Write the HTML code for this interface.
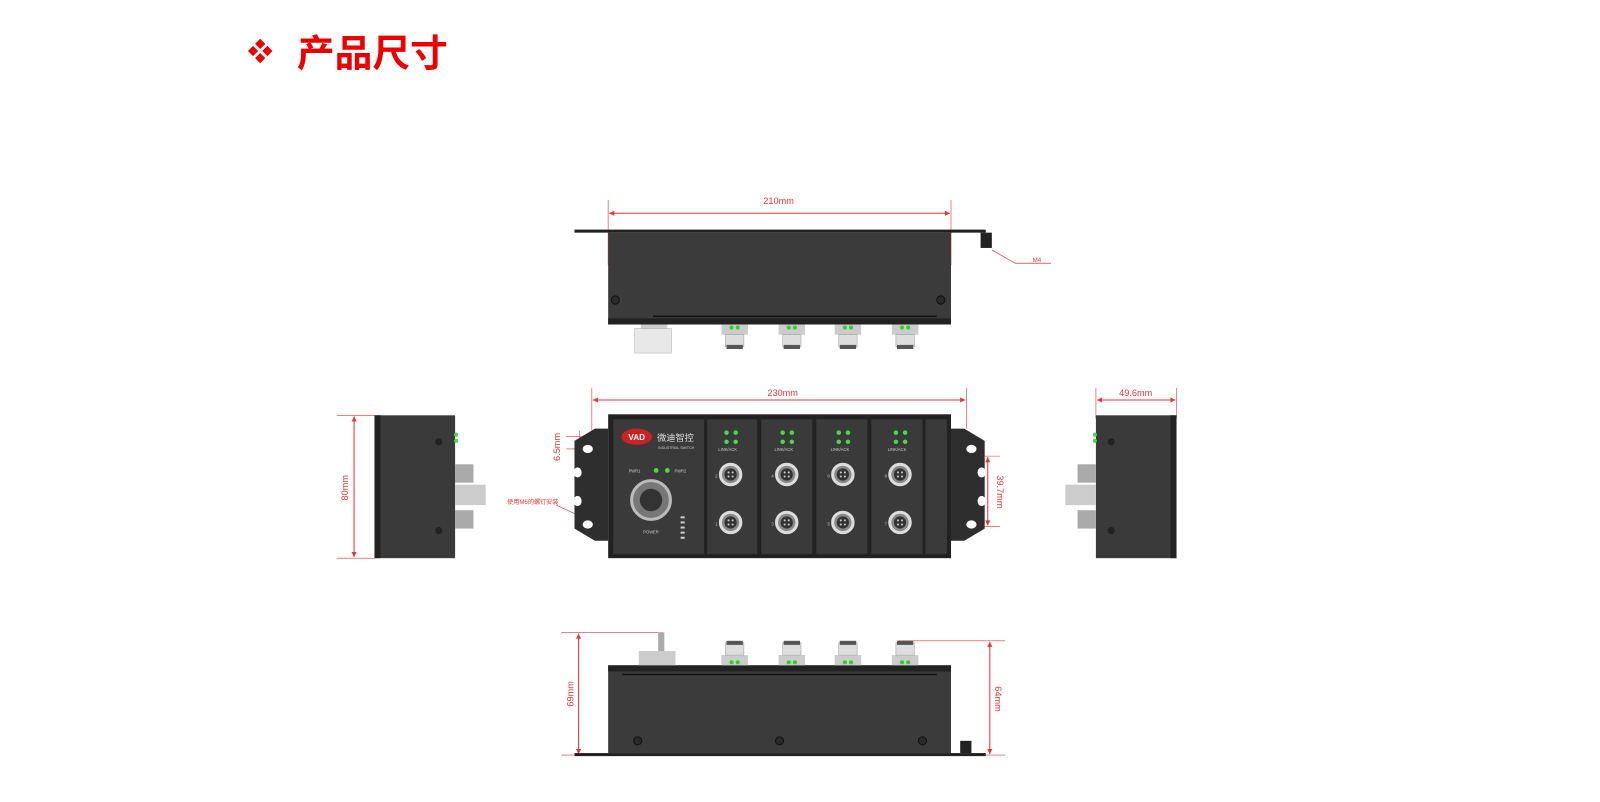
<!DOCTYPE html>
<html><head><meta charset="utf-8"><style>
body{margin:0;background:#fff;width:1600px;height:797px;overflow:hidden;font-family:"Liberation Sans","Noto Sans CJK SC",sans-serif}
</style></head><body>
<svg width="1600" height="797" xmlns="http://www.w3.org/2000/svg" font-family="Liberation Sans, Noto Sans CJK SC, sans-serif">
<defs>
<marker id="a" viewBox="0 0 10 10" refX="10" refY="5" markerWidth="7" markerHeight="5" orient="auto-start-reverse"><path d="M0,0L10,5L0,10z" fill="#e33"/></marker>
<g id="m12"><circle r="10" fill="#888" stroke="#ddd" stroke-width="3"/><circle r="6" fill="#333"/><circle cx="-2" cy="-2" r="1" fill="#ccc"/><circle cx="2" cy="-2" r="1" fill="#ccc"/><circle cx="-2" cy="2" r="1" fill="#ccc"/><circle cx="2" cy="2" r="1" fill="#ccc"/></g>
<g id="conn"><rect x="-13" y="0" width="26" height="10" fill="#ccc"/><circle cx="-3" cy="3" r="2" fill="#3c3"/><circle cx="3" cy="3" r="2" fill="#3c3"/><rect x="-9" y="10" width="18" height="12" fill="#ddd" stroke="#999" stroke-width=".5"/><rect x="-8" y="20" width="16" height="4" fill="#555"/></g>
</defs>
<g transform="scale(1.0204)">
<!-- title -->
<g fill="#e00"><path d="M255,38 l5,5 -5,5 -5,-5z"/><path d="M255,52 l5,5 -5,5 -5,-5z"/><path d="M248,45 l5,5 -5,5 -5,-5z"/><path d="M262,45 l5,5 -5,5 -5,-5z"/></g>
<text x="291" y="65" font-size="37" font-weight="bold" fill="#e00">产品尺寸</text>

<g stroke="#e33" stroke-width="1" fill="none">
<line x1="596" y1="196" x2="596" y2="260" stroke-width=".6"/><line x1="932" y1="196" x2="932" y2="260" stroke-width=".6"/>
<line x1="597" y1="209" x2="931" y2="209" marker-start="url(#a)" marker-end="url(#a)"/>
<polyline points="972,245 995,258 1030,258" stroke-width=".7"/>
<line x1="580" y1="380" x2="580" y2="440" stroke-width=".6"/><line x1="947" y1="380" x2="947" y2="420" stroke-width=".6"/>
<line x1="581" y1="392" x2="946" y2="392" marker-start="url(#a)" marker-end="url(#a)"/>
<line x1="1074" y1="380" x2="1074" y2="410" stroke-width=".6"/><line x1="1153" y1="380" x2="1153" y2="410" stroke-width=".6"/>
<line x1="1075" y1="392" x2="1152" y2="392" marker-start="url(#a)" marker-end="url(#a)"/>
<line x1="330" y1="407" x2="367" y2="407" stroke-width=".6"/><line x1="330" y1="547" x2="367" y2="547" stroke-width=".6"/>
<line x1="347" y1="408" x2="347" y2="546" marker-start="url(#a)" marker-end="url(#a)"/>
<line x1="555" y1="428" x2="585" y2="428" stroke-width=".6"/><line x1="555" y1="440" x2="585" y2="440" stroke-width=".6"/>
<line x1="568" y1="422" x2="568" y2="446" stroke-width=".6"/>
<line x1="945" y1="447" x2="980" y2="447" stroke-width=".6"/><line x1="945" y1="516" x2="980" y2="516" stroke-width=".6"/>
<line x1="968" y1="448" x2="968" y2="515" marker-start="url(#a)" marker-end="url(#a)"/>
<line x1="545" y1="495" x2="582" y2="512" stroke-width=".7" marker-end="url(#a)"/>
<line x1="550" y1="620" x2="650" y2="620" stroke-width=".6"/><line x1="550" y1="740" x2="600" y2="740" stroke-width=".6"/>
<line x1="567" y1="621" x2="567" y2="739" marker-start="url(#a)" marker-end="url(#a)"/>
<line x1="880" y1="628" x2="985" y2="628" stroke-width=".6"/><line x1="940" y1="740" x2="985" y2="740" stroke-width=".6"/>
<line x1="970" y1="629" x2="970" y2="739" marker-start="url(#a)" marker-end="url(#a)"/>
</g>
<g fill="#e33" font-size="9">
<text x="763" y="200" text-anchor="middle">210mm</text>
<text x="1012" y="257" font-size="6">M4</text>
<text x="767" y="388" text-anchor="middle">230mm</text>
<text x="1113" y="388" text-anchor="middle">49.6mm</text>
<text transform="translate(341,478) rotate(-90)" text-anchor="middle">80mm</text>
<text transform="translate(549,438) rotate(-90)" text-anchor="middle">6.5mm</text>
<text transform="translate(977,482) rotate(90)" text-anchor="middle">39.7mm</text>
<text x="497" y="494" font-size="6">使用M6的螺钉安装</text>
<text transform="translate(562,680) rotate(-90)" text-anchor="middle">69mm</text>
<text transform="translate(975,685) rotate(90)" text-anchor="middle">64mm</text>
</g>

<!-- top view -->
<rect x="563" y="225" width="403" height="3" fill="#222"/>
<rect x="596" y="228" width="336" height="90" fill="#3b3b3b"/>
<rect x="596" y="312" width="336" height="6" fill="#222"/>
<line x1="640" y1="310" x2="918" y2="310" stroke="#111" stroke-width="1.5"/>
<circle cx="603" cy="294" r="4" fill="#2a2a2a" stroke="#111"/><circle cx="922" cy="294" r="4" fill="#2a2a2a" stroke="#111"/>
<rect x="961" y="228" width="11" height="15" fill="#222"/>
<rect x="628" y="318" width="26" height="10" fill="#ccc"/><rect x="622" y="322" width="36" height="24" fill="#e8e8e8" stroke="#aaa" stroke-width=".5"/>
<use href="#conn" x="720" y="318"/><use href="#conn" x="776" y="318"/><use href="#conn" x="831" y="318"/><use href="#conn" x="887" y="318"/>

<!-- front view -->
<path d="M563,432 l20,-12 h13 v110 h-13 l-20,-12z" fill="#2e2e2e"/>
<path d="M965,432 l-20,-12 h-13 v110 h13 l20,-12z" fill="#2e2e2e"/>
<g fill="#fff"><ellipse cx="576" cy="440" rx="5" ry="4"/><ellipse cx="576" cy="514" rx="5" ry="4"/><ellipse cx="952" cy="440" rx="5" ry="4"/><ellipse cx="952" cy="514" rx="5" ry="4"/>
<ellipse cx="566" cy="463" rx="4" ry="5"/><ellipse cx="566" cy="491" rx="4" ry="5"/><ellipse cx="962" cy="463" rx="4" ry="5"/><ellipse cx="962" cy="491" rx="4" ry="5"/></g>
<rect x="596" y="406" width="336" height="141" fill="#222"/>
<rect x="601" y="411" width="89" height="132" fill="#3a3a3a"/>
<rect x="693" y="411" width="49" height="132" fill="#3a3a3a"/>
<rect x="746" y="411" width="50" height="132" fill="#3a3a3a"/>
<rect x="800" y="411" width="50" height="132" fill="#3a3a3a"/>
<rect x="854" y="411" width="50" height="132" fill="#3a3a3a"/>
<rect x="907" y="411" width="21" height="132" fill="#3a3a3a"/>
<ellipse cx="624" cy="428" rx="15" ry="8" fill="#c22"/><text x="624" y="431" font-size="8" fill="#fff" text-anchor="middle" font-weight="bold">VAD</text>
<text x="644" y="432" font-size="9" fill="#ddd">微迪智控</text>
<text x="645" y="440" font-size="3.5" fill="#ccc">INDUSTRIAL SWITCH</text>
<text x="616" y="463" font-size="4" fill="#ccc">PWR1</text><circle cx="643" cy="461" r="2.3" fill="#4d4"/><circle cx="654" cy="461" r="2.3" fill="#4d4"/><text x="661" y="463" font-size="4" fill="#ccc">PWR2</text>
<circle cx="638" cy="490" r="19" fill="#777" stroke="#bbb" stroke-width="3"/><circle cx="638" cy="490" r="11" fill="#333"/>
<text x="638" y="523" font-size="4" fill="#ccc" text-anchor="middle">POWER</text>
<g fill="#ccc"><rect x="667" y="506" width="4" height="2"/><rect x="667" y="511" width="4" height="2"/><rect x="667" y="516" width="4" height="2"/><rect x="667" y="521" width="4" height="2"/><rect x="667" y="526" width="4" height="2"/></g>
<g fill="#4d4">
<circle cx="712" cy="424" r="2.2"/><circle cx="721" cy="424" r="2.2"/><circle cx="712" cy="433" r="2.2"/><circle cx="721" cy="433" r="2.2"/>
<circle cx="767" cy="424" r="2.2"/><circle cx="776" cy="424" r="2.2"/><circle cx="767" cy="433" r="2.2"/><circle cx="776" cy="433" r="2.2"/>
<circle cx="822" cy="424" r="2.2"/><circle cx="831" cy="424" r="2.2"/><circle cx="822" cy="433" r="2.2"/><circle cx="831" cy="433" r="2.2"/>
<circle cx="878" cy="424" r="2.2"/><circle cx="887" cy="424" r="2.2"/><circle cx="878" cy="433" r="2.2"/><circle cx="887" cy="433" r="2.2"/>
</g>
<g font-size="4" fill="#ccc"><text x="704" y="442">LINK/ACK</text><text x="759" y="442">LINK/ACK</text><text x="814" y="442">LINK/ACK</text><text x="870" y="442">LINK/ACK</text>
<text x="701" y="468">2</text><text x="701" y="515">1</text><text x="756" y="468">4</text><text x="756" y="515">3</text><text x="811" y="468">6</text><text x="811" y="515">5</text><text x="867" y="468">8</text><text x="867" y="515">7</text></g>
<use href="#m12" x="716" y="465"/><use href="#m12" x="716" y="512"/><use href="#m12" x="771" y="465"/><use href="#m12" x="771" y="512"/>
<use href="#m12" x="826" y="465"/><use href="#m12" x="826" y="512"/><use href="#m12" x="882" y="465"/><use href="#m12" x="882" y="512"/>

<!-- left side view -->
<rect x="367" y="407" width="79" height="140" fill="#3a3a3a"/><rect x="367" y="407" width="6" height="140" fill="#222"/>
<circle cx="430" cy="433" r="3.5" fill="#222"/><circle cx="430" cy="520" r="3.5" fill="#222"/>
<circle cx="447" cy="426" r="2" fill="#4d4"/><circle cx="447" cy="432" r="2" fill="#4d4"/>
<rect x="446" y="455" width="18" height="18" fill="#aaa"/><rect x="446" y="475" width="30" height="20" fill="#ccc"/><rect x="446" y="500" width="18" height="18" fill="#aaa"/>
<!-- right side view -->
<rect x="1074" y="407" width="79" height="140" fill="#3a3a3a"/><rect x="1147" y="407" width="6" height="140" fill="#222"/>
<circle cx="1089" cy="433" r="3.5" fill="#222"/><circle cx="1089" cy="520" r="3.5" fill="#222"/>
<circle cx="1073" cy="426" r="2" fill="#4d4"/><circle cx="1073" cy="432" r="2" fill="#4d4"/>
<rect x="1056" y="455" width="18" height="18" fill="#aaa"/><rect x="1044" y="475" width="30" height="20" fill="#ccc"/><rect x="1056" y="500" width="18" height="18" fill="#aaa"/>

<!-- bottom view -->
<rect x="596" y="652" width="336" height="86" fill="#3b3b3b"/>
<rect x="596" y="652" width="336" height="6" fill="#222"/>
<line x1="610" y1="661" x2="918" y2="661" stroke="#111" stroke-width="1.5"/>
<rect x="563" y="738" width="403" height="3" fill="#222"/>
<rect x="941" y="726" width="11" height="12" fill="#222"/>
<circle cx="625" cy="726" r="4" fill="#2a2a2a" stroke="#111"/><circle cx="764" cy="726" r="4" fill="#2a2a2a" stroke="#111"/><circle cx="904" cy="726" r="4" fill="#2a2a2a" stroke="#111"/>
<rect x="645" y="620" width="6" height="20" fill="#aaa"/><rect x="626" y="638" width="36" height="14" fill="#ccc"/>
<g transform="translate(0,1276) scale(1,-1)"><use href="#conn" x="720" y="624"/><use href="#conn" x="776" y="624"/><use href="#conn" x="831" y="624"/><use href="#conn" x="887" y="624"/></g>
</g>
</svg>
</body></html>
